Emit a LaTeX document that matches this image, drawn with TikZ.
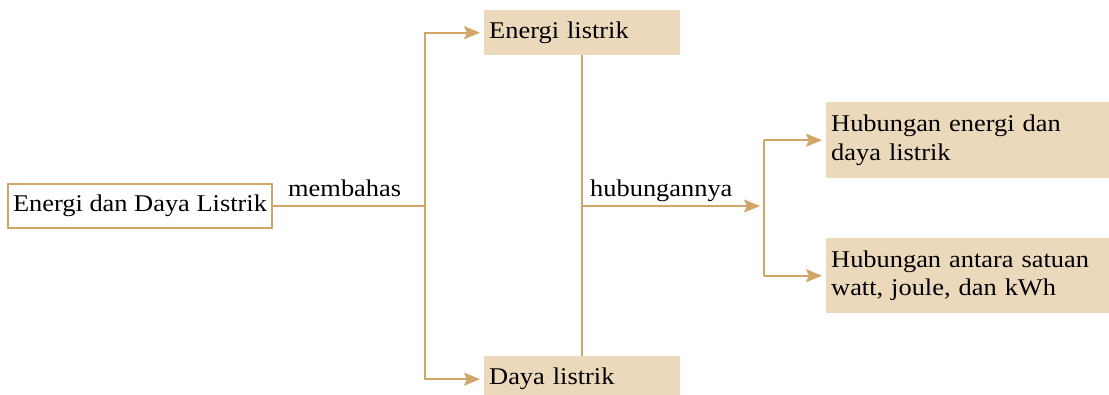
\documentclass[tikz,border=0pt]{standalone}
\usepackage{fontspec}
\setmainfont{Liberation Serif}[FakeStretch=1.1]
\usetikzlibrary{arrows.meta}
\definecolor{tan}{RGB}{210,165,105}
\definecolor{boxfill}{RGB}{236,217,188}
\tikzset{
  conn/.style={draw=tan, line width=1.9pt},
  arr/.style={conn, -{Stealth[length=16pt,width=13pt,inset=3pt]}, shorten >=4pt},
  fillbox/.style={fill=boxfill, anchor=north west, inner xsep=5pt, inner ysep=0pt, align=left, font=\fontsize{24}{28.5}\selectfont},
  lbl/.style={font=\fontsize{24}{28}\selectfont, anchor=base west, inner sep=0pt},
}
\begin{document}
\begin{tikzpicture}[x=1pt,y=-1pt]
\useasboundingbox (0,0) rectangle (1109,395);
\node[draw=tan, line width=1.9pt, anchor=center, minimum width=264pt, minimum height=44pt, inner sep=0pt, outer sep=0pt, font=\fontsize{24}{28}\selectfont] (main) at (140,206) {Energi dan Daya Listrik};
\node[fillbox, minimum width=196pt, minimum height=45pt, text width=186pt] (el) at (484,10) {Energi listrik};
\node[fillbox, minimum width=196pt, minimum height=46pt, text width=186pt] (dl) at (484,356) {Daya listrik};
\node[fillbox, minimum width=283pt, minimum height=76pt, text width=273pt] (h1) at (826,102) {Hubungan energi dan\\daya listrik};
\node[fillbox, minimum width=283pt, minimum height=75pt, text width=273pt] (h2) at (826,238) {Hubungan antara satuan\\watt, joule, dan kWh};
\coordinate (j1) at (425,206);
\coordinate (j2) at (582,206);
\coordinate (j3) at (764,206);
\draw[conn] (main.east) -- (j1);
\node[lbl] (mb) at (288,197) {membahas};
\draw[arr] (j1) |- (el.west);
\draw[arr] (j1) |- (dl.west);
\draw[conn] (el.south -| j2) -- (dl.north -| j2);
\draw[arr] (j2) -- (j3);
\node[lbl] (hb) at (590,197) {hubungannya};
\draw[conn] (j3 |- h1.west) -- (j3 |- h2.west);
\draw[arr] (j3 |- h1.west) -- (h1.west);
\draw[arr] (j3 |- h2.west) -- (h2.west);
\end{tikzpicture}
\end{document}
